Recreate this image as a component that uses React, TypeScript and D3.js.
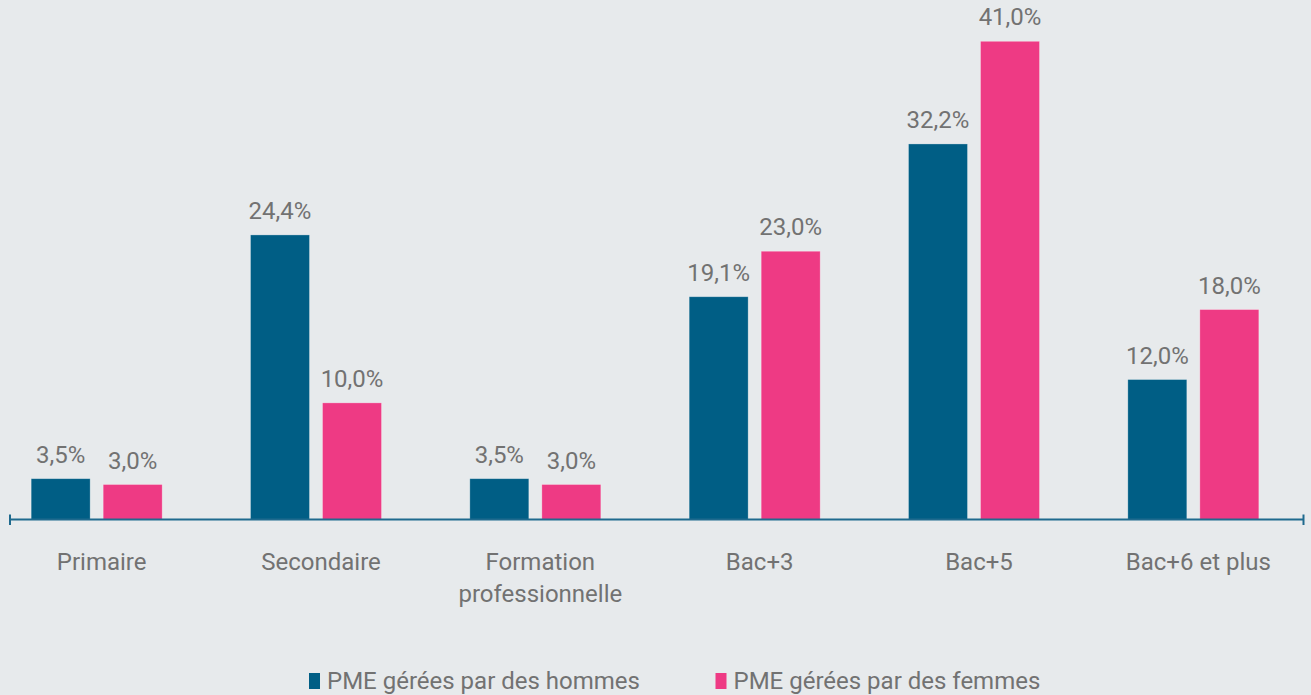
import React from "react";
import * as d3 from "d3";

const categories: string[][] = [
  ["Primaire"],
  ["Secondaire"],
  ["Formation", "professionnelle"],
  ["Bac+3"],
  ["Bac+5"],
  ["Bac+6 et plus"],
];
const seriesNames = ["PME gérées par des hommes", "PME gérées par des femmes"];
const hommes = [3.5, 24.4, 3.5, 19.1, 32.2, 12.0];
const femmes = [3.0, 10.0, 3.0, 23.0, 41.0, 18.0];
const colors = ["#005e85", "#ee3a84"];

const W = 1311;
const H = 695;
const BASE = 519.5;
const FONT = "Roboto, 'Noto Sans', sans-serif";
const TEXT = "#727272";

export default function App() {
  const keys = categories.map((c) => c.join(" "));
  const x = d3.scaleBand<string>().domain(keys).range([-13, 1303]).padding(0);
  const inner = d3
    .scaleBand<number>()
    .domain([0, 1])
    .range([-65.5, 65.5])
    .paddingInner(0.181)
    .paddingOuter(0);
  const y = d3.scaleLinear().domain([0, 41]).range([BASE, 41.3]);
  const data = [hommes, femmes];
  const fmt = (v: number) => v.toFixed(1).replace(".", ",") + "%";

  return (
    <svg
      width={W}
      height={H}
      style={{ position: "absolute", left: 0, top: 0, background: "#e7eaec" }}
      fontFamily={FONT}
    >
      <rect x={0} y={0} width={W} height={H} fill="#e7eaec" />
      {keys.map((k, ci) => {
        const cx = (x(k) as number) + x.bandwidth() / 2;
        return (
          <g key={k}>
            {data.map((s, si) => {
              const v = s[ci];
              const bx = cx + (inner(si) as number);
              return (
                <g key={si}>
                  <rect
                    x={bx}
                    y={y(v)}
                    width={inner.bandwidth()}
                    height={BASE - y(v)}
                    fill={colors[si]}
                    stroke="rgba(255,255,255,0.35)"
                    strokeWidth={0.8}
                  />
                  <text
                    x={bx + inner.bandwidth() / 2}
                    y={y(v) - 16}
                    textAnchor="middle"
                    fontSize={24}
                    fill={TEXT}
                  >
                    {fmt(v)}
                  </text>
                </g>
              );
            })}
            {categories[ci].map((line, li) => (
              <text
                key={li}
                x={cx + 5}
                y={569.5 + li * 32}
                textAnchor="middle"
                fontSize={24}
                fill={TEXT}
              >
                {line}
              </text>
            ))}
          </g>
        );
      })}
      <line x1={10} x2={1303.5} y1={BASE} y2={BASE} stroke="#1f6a8e" strokeWidth={2} />
      <line x1={10} x2={10} y1={514.5} y2={525} stroke="#1f6a8e" strokeWidth={2} />
      <line x1={1303.5} x2={1303.5} y1={514.5} y2={525} stroke="#1f6a8e" strokeWidth={2} />
      {seriesNames.map((name, i) => {
        const lx = i === 0 ? 309 : 715.5;
        return (
          <g key={name}>
            <rect x={lx} y={673} width={11} height={16} fill={colors[i]} />
            <text x={lx + 18} y={689} fontSize={24} fill={TEXT}>
              {name}
            </text>
          </g>
        );
      })}
    </svg>
  );
}
